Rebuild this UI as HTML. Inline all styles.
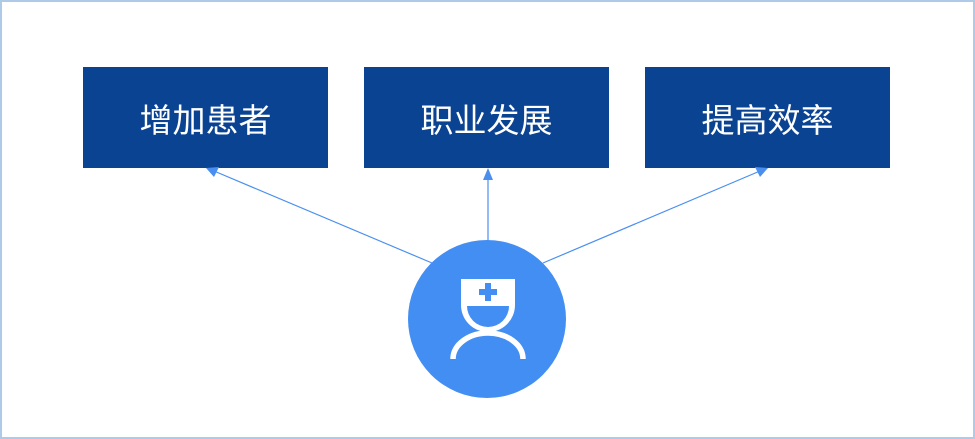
<!DOCTYPE html>
<html><head><meta charset="utf-8"><style>
html,body{margin:0;padding:0;background:#fff}
.wrap{position:relative;width:975px;height:439px;overflow:hidden}
.frame{position:absolute;left:0;top:0;width:971px;height:435px;border:2px solid #adcbe8}
.box{position:absolute;top:67px;width:245px;height:101px;background:#0b4393;color:#fff;font:33px "Liberation Sans","Noto Sans CJK SC",sans-serif;display:flex;align-items:center;justify-content:center}
svg{position:absolute;left:0;top:0}
</style></head><body><div class="wrap">
<div class="frame"></div>
<div class="box" style="left:83px">增加患者</div>
<div class="box" style="left:364px">职业发展</div>
<div class="box" style="left:645px">提高效率</div>
<svg width="975" height="439">
<g stroke="#4a8ff0" stroke-width="1.2" fill="none">
<line x1="432" y1="263" x2="214" y2="171"/>
<line x1="488" y1="241" x2="488" y2="178"/>
<line x1="543" y1="263" x2="760" y2="171"/>
</g>
<g fill="#4a8ff0">
<polygon points="206,168 219,167 214,177"/>
<polygon points="488,168 483,180 493,180"/>
<polygon points="768,168 755,167 760,177"/>
</g>
<circle cx="487" cy="319" r="79" fill="#438ef3"/>
<path d="M461 279 H515 V305 A27 27 0 0 1 461 305 Z" fill="#fff"/>
<path d="M467 306 H509 A21 21 0 0 1 467 306 Z" fill="#438ef3"/>
<rect x="485" y="283" width="6" height="18" fill="#438ef3"/>
<rect x="479" y="289" width="18" height="6" fill="#438ef3"/>
<path d="M453 359 A35 26 0 0 1 523 359" fill="none" stroke="#fff" stroke-width="5.5"/>
</svg>
</div></body></html>
